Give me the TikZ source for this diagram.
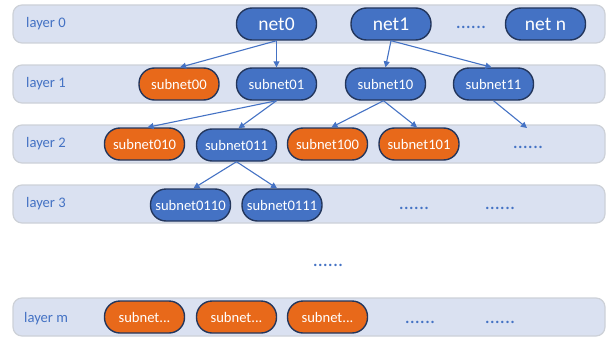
\documentclass[tikz,border=0pt]{standalone}
\usepackage{fontspec}
\setmainfont{Carlito}
\usetikzlibrary{arrows.meta}
\definecolor{bandfill}{HTML}{DAE1F1}
\definecolor{bandline}{HTML}{CDD1D8}
\definecolor{nblue}{HTML}{4472C4}
\definecolor{nborder}{HTML}{23365C}
\definecolor{norange}{HTML}{E8691A}
\definecolor{txtblue}{HTML}{4472C4}
\tikzset{
  band/.style={draw=bandline, fill=bandfill, line width=1.2pt, rounded corners=9pt},
  lay/.style={anchor=west, text=txtblue, font=\fontsize{14.6}{15}\selectfont, inner sep=0pt},
  bnode/.style={draw=nborder, fill=nblue, line width=1.4pt, text=white, rounded corners=15.5pt,
     minimum width=80pt, minimum height=32pt, inner sep=0pt, font=\fontsize{14.6}{15}\selectfont},
  onode/.style={bnode, fill=norange},
  bignode/.style={bnode, font=\fontsize{19.5}{20}\selectfont},
  dots/.style={text=txtblue, font=\fontsize{20}{20}\selectfont, inner sep=0pt},
  arr/.style={draw=nblue, line width=1.1pt, -{Triangle[length=6pt,width=6pt]}},
}
\begin{document}
\begin{tikzpicture}[x=1pt,y=-1pt]
\useasboundingbox (0,0) rectangle (615,337);
% bands
\path[band] (13,5) rectangle (605,43);
\path[band] (13,65) rectangle (605,103);
\path[band] (13,125) rectangle (605,163);
\path[band] (13,185) rectangle (605,223);
\path[band] (13,298) rectangle (605,336);
% labels
\node[lay] (l0) at (26,24) {layer 0};
\node[lay] (l1) at (26,84) {layer 1};
\node[lay] (l2) at (26,144) {layer 2};
\node[lay] (l3) at (26,204) {layer 3};
\node[lay] (lm) at (24,319) {layer m};
% layer 0
\node[bignode] (net0) at (276.5,24) {net0};
\node[bignode] (net1) at (391,24) {net1};
\node[bignode] (netn) at (545.5,24) {net n};
\node[dots] (d0) at (471,27) {......};
% layer 1
\node[onode] (s00) at (179,84) {subnet00};
\node[bnode] (s01) at (276.5,84) {subnet01};
\node[bnode] (s10) at (385.5,84) {subnet10};
\node[bnode] (s11) at (493.5,84) {subnet11};
% layer 2
\node[onode] (s010) at (144.5,144) {subnet010};
\node[bnode] (s011) at (236.5,145) {subnet011};
\node[onode] (s100) at (327.5,144) {subnet100};
\node[onode] (s101) at (419,144) {subnet101};
\node[dots] (d2) at (528,147) {......};
% layer 3
\node[bnode] (s0110) at (190.5,205) {subnet0110};
\node[bnode] (s0111) at (282,205) {subnet0111};
\node[dots] (d31) at (414,208) {......};
\node[dots] (d32) at (500,208) {......};
% middle
\node[dots] (dm) at (328,265) {......};
% layer m
\node[onode] (m1) at (144.5,317) {subnet...};
\node[onode] (m2) at (236.5,317) {subnet...};
\node[onode] (m3) at (327.5,317) {subnet...};
\node[dots] (dm1) at (420,322) {......};
\node[dots] (dm2) at (500,322) {......};
% arrows
\coordinate (e11) at (527,128);
\draw[arr] (net0.south) -- ([xshift=1pt]s00.north);
\draw[arr] (net0.south) -- (s01.north);
\draw[arr] (net1.south) -- (s10.north);
\draw[arr] (net1.south) -- ([xshift=-2pt]s11.north);
\draw[arr] (s01.south) -- ([xshift=3pt]s010.north);
\draw[arr] (s01.south) -- ([xshift=2pt]s011.north);
\draw[arr] ([xshift=-2pt]s10.south) -- ([xshift=4pt]s100.north);
\draw[arr] ([xshift=-2pt]s10.south) -- ([xshift=-2pt]s101.north);
\draw[arr] (s11.south) -- (e11);
\draw[arr] (s011.south) -- ([xshift=3pt]s0110.north);
\draw[arr] (s011.south) -- ([xshift=-5pt]s0111.north);
\end{tikzpicture}
\end{document}
